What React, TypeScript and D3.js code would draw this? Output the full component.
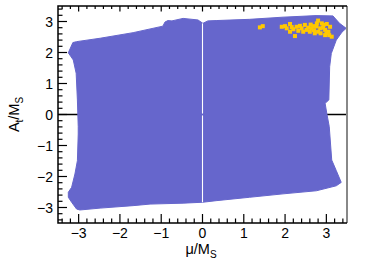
import React, { useRef, useEffect } from "react";
import * as d3 from "d3";

// outline of the allowed region (mu/MS, At/MS), clockwise from the upper left
const regionMu = [
  -3.25, -3.14, -3.05, -2.48, -1.68, -0.96, -0.91, -0.84, -0.74, -0.47, -0.11, 0.01, 0.13, 0.33,
  1.14, 1.95, 2.75, 3.16, 3.32, 3.48, 3.38, 3.24, 3.12, 3.08, 3.06, 2.97, 3.01, 3.07, 3.13, 3.24,
  3.36, 3.24, 2.76, 1.95, 1.14, 0.33, 0.01, -0.47, -1.27, -1.68, -2.48, -2.97, -3.05, -3.17, -3.25,
  -3.25, -3.17, -3.09, -3.03, -3.01, -3.01, -3.03, -3.06, -3.13,
];
const regionAt = [
  1.99, 2.32, 2.35, 2.46, 2.64, 2.85, 2.98, 3.03, 3.02, 3.1, 3.05, 2.94, 3.02, 3.03,
  3.07, 3.14, 3.19, 3.18, 2.94, 2.78, 2.66, 2.4, 1.97, 1.54, 0.47, 0.36, 0.04, -0.39, -1.47, -1.81,
  -2.19, -2.3, -2.46, -2.56, -2.67, -2.78, -2.83, -2.86, -2.89, -2.94, -3.02, -3.08, -3.05, -2.83, -2.67,
  -2.51, -2.35, -1.92, -1.49, -0.63, -0.39, 0.47, 1.33, 1.76,
];

// highlighted points
const hiMu = [
  1.39, 1.46, 1.92, 2.0, 2.04, 2.12, 2.12, 2.2, 2.24, 2.28, 2.32, 2.4, 2.44, 2.48, 2.52, 2.6, 2.64,
  2.68, 2.72, 2.77, 2.8, 2.85, 2.86, 2.93, 2.97, 3.01, 3.05, 3.07, 3.09, 2.89, 2.8, 2.97, 3.13,
  2.56, 2.36, 2.16, 2.7, 2.92, 3.0, 2.76, 2.62,
];
const hiAt = [
  2.81, 2.85, 2.83, 2.85, 2.78, 2.92, 2.67, 2.75, 2.53, 2.83, 2.7, 2.78, 2.67, 2.89, 2.73, 2.67, 2.78,
  2.85, 2.62, 2.94, 3.03, 2.78, 2.62, 2.89, 2.73, 2.92, 2.67, 2.56, 2.83, 2.94, 2.67, 2.56, 2.51,
  2.8, 2.86, 2.82, 2.72, 2.8, 2.62, 2.84, 2.9,
];

const xTicks = [-3, -2, -1, 0, 1, 2, 3];
const yTicks = [-3, -2, -1, 0, 1, 2, 3];

const W = 366;
const H = 267;
const font = "'Liberation Sans', Arial, sans-serif";

const App = () => {
  const svgRef = useRef(null);

  useEffect(() => {
    const svg = d3.select(svgRef.current);
    const m = { left: 58, right: 347, top: 6, bottom: 223 };

    const x = d3.scaleLinear().domain([-3.5, 3.5]).range([m.left, m.right]);
    const y = d3.scaleLinear().domain([-3.5, 3.5]).range([m.bottom, m.top]);

    // zero line, under the region
    svg
      .append("line")
      .attr("x1", m.left)
      .attr("x2", m.right)
      .attr("y1", y(0))
      .attr("y2", y(0))
      .attr("stroke", "#000")
      .attr("stroke-width", 1.5);

    const pts = regionMu.map((d, i) => [x(d), y(regionAt[i])]);
    svg
      .append("path")
      .attr("d", d3.line()(pts) + "Z")
      .attr("fill", "#6666cc")
      .attr("stroke", "#6666cc")
      .attr("stroke-width", 1);

    // thin empty strip at mu = 0
    svg
      .append("line")
      .attr("x1", x(0))
      .attr("x2", x(0))
      .attr("y1", y(2.94))
      .attr("y2", y(0.03))
      .attr("stroke", "#fff")
      .attr("stroke-width", 1.1);
    svg
      .append("line")
      .attr("x1", x(0))
      .attr("x2", x(0))
      .attr("y1", y(-0.03))
      .attr("y2", y(-2.83))
      .attr("stroke", "#fff")
      .attr("stroke-width", 1.1);

    svg
      .selectAll(".hi")
      .data(hiMu)
      .enter()
      .append("rect")
      .attr("x", (d) => x(d) - 2)
      .attr("y", (d, i) => y(hiAt[i]) - 2)
      .attr("width", 4)
      .attr("height", 4)
      .attr("fill", "#ffc800");

    // frame
    svg
      .append("line")
      .attr("x1", m.right)
      .attr("x2", m.right)
      .attr("y1", m.top)
      .attr("y2", m.bottom)
      .attr("stroke", "#888")
      .attr("stroke-width", 2);
    svg
      .append("path")
      .attr("d", `M${m.right},${m.top}H${m.left}V${m.bottom}H${m.right}`)
      .attr("fill", "none")
      .attr("stroke", "#000")
      .attr("stroke-width", 1.5);

    const minorX = d3.range(-3.4, 3.5, 0.2).map((d) => Math.round(d * 10) / 10);
    const g = svg.append("g").attr("stroke", "#000").attr("stroke-width", 1.2);

    minorX.forEach((d) => {
      const major = Number.isInteger(d);
      g.append("line")
        .attr("x1", x(d))
        .attr("x2", x(d))
        .attr("y1", m.bottom)
        .attr("y2", m.bottom - (major ? 9 : 4.5));
      g.append("line")
        .attr("x1", x(d))
        .attr("x2", x(d))
        .attr("y1", m.top)
        .attr("y2", m.top + (major ? 5.5 : 3));
      g.append("line")
        .attr("y1", y(d))
        .attr("y2", y(d))
        .attr("x1", m.left)
        .attr("x2", m.left + (major ? 9 : 4.5));
    });

    const fmt = (d) => (d < 0 ? "\u2212" + Math.abs(d) : String(d));

    svg
      .selectAll(".xl")
      .data(xTicks)
      .enter()
      .append("text")
      .attr("x", (d) => x(d))
      .attr("y", 237.5)
      .attr("text-anchor", "middle")
      .style("font-family", font)
      .style("font-size", "14px")
      .text(fmt);

    svg
      .selectAll(".yl")
      .data(yTicks)
      .enter()
      .append("text")
      .attr("x", 53)
      .attr("y", (d) => y(d) + 5)
      .attr("text-anchor", "end")
      .style("font-family", font)
      .style("font-size", "14px")
      .text(fmt);

    // axis titles
    const xt = svg
      .append("text")
      .attr("x", 201)
      .attr("y", 254)
      .attr("text-anchor", "middle")
      .style("font-family", font)
      .style("font-size", "14.5px");
    xt.append("tspan").text("\u03bc/M");
    xt.append("tspan").attr("dy", 4).style("font-size", "10px").text("S");

    const yt = svg
      .append("text")
      .attr("transform", `translate(19, ${(m.top + m.bottom) / 2}) rotate(-90)`)
      .attr("text-anchor", "middle")
      .style("font-family", font)
      .style("font-size", "14.5px");
    yt.append("tspan").text("A");
    yt.append("tspan").attr("dy", 4).style("font-size", "10px").text("t");
    yt.append("tspan").attr("dy", -4).text("/M");
    yt.append("tspan").attr("dy", 4).style("font-size", "10px").text("S");

    return () => svg.selectAll("*").remove();
  }, []);

  return (
    <svg
      ref={svgRef}
      width={W}
      height={H}
      style={{ position: "absolute", left: 0, top: 0, background: "#fff" }}
    ></svg>
  );
};

export default App;
